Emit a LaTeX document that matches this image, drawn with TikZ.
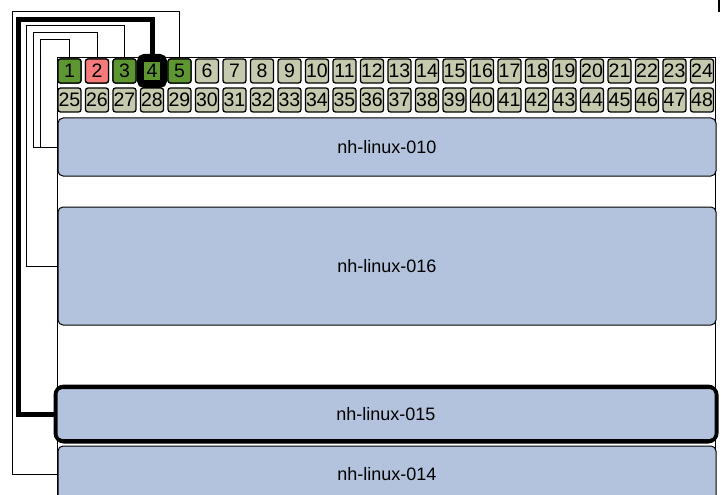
\documentclass[tikz,border=0pt]{standalone}
\usepackage{fontspec}
\setmainfont{Liberation Sans}
\begin{document}
\begin{tikzpicture}[x=1pt,y=-1pt,
  port/.style={draw=black,line width=1.3pt,rounded corners=2.5pt,minimum width=23pt,minimum height=24pt,inner sep=0pt,font=\fontsize{19.5}{20}\selectfont,fill=portbg},
  srv/.style={draw=black,line width=1pt,rounded corners=5pt,fill=srvbg,inner sep=0pt,minimum width=658pt,font=\fontsize{18}{18}\selectfont},
  cable/.style={draw=black,line width=1pt},
  thickcable/.style={draw=black,line width=5pt}]
\definecolor{portbg}{HTML}{C5C9AD}
\definecolor{portgreen}{HTML}{5E9732}
\definecolor{portred}{HTML}{F77B7B}
\definecolor{srvbg}{HTML}{B3C3DD}
\useasboundingbox (0,0) rectangle (721,495);
% panel outline
\draw[line width=1pt] (57,495) -- (57,58) -- (715,58) -- (715,495);
\draw[line width=2pt,draw=black] (719,0) -- (719,12);
% ports
\foreach \i in {1,...,24}{
  \pgfmathsetmacro{\xx}{69.5+(\i-1)*27.5}
  \node[port] (p\i) at (\xx,71) {\i};
}
\foreach \i in {25,...,48}{
  \pgfmathsetmacro{\xx}{69.5+(\i-25)*27.5}
  \node[port] (p\i) at (\xx,100) {\i};
}
\node[port,fill=portgreen] at (p1) {1};
\node[port,fill=portred] at (p2) {2};
\node[port,fill=portgreen] at (p3) {3};
\node[port,fill=portgreen] at (p5) {5};
\node[draw=black,line width=4pt,rounded corners=5pt,fill=black,minimum width=26pt,minimum height=30pt] (p4hl) at (p4) {};
\node[port,fill=portgreen,draw=black,rounded corners=0pt,minimum width=17pt,minimum height=19pt] at (p4) {4};
% servers
\node[srv,minimum height=58pt] (s010) at (387,147) {nh-linux-010};
\node[srv,minimum height=118pt] (s016) at (387,266) {nh-linux-016};
\node[draw=black,line width=5pt,rounded corners=8pt,minimum width=660pt,minimum height=54pt] (s015hl) at (386,414) {};
\node[srv,minimum height=51pt] (s015) at (386,414) {nh-linux-015};
\node[srv,minimum height=56pt] (s014) at (387,474) {nh-linux-014};
% cables
\draw[cable] (p1.north) |- (40,40) |- (s010.west);
\draw[cable] (p2.north) |- (33,33) |- (s010.west);
\draw[cable] (p3.north) |- (26,26) |- (s016.west);
\draw[thickcable] (p4hl.north) |- (18,20) |- (s015hl.west);
\draw[cable] (p5.north) |- (12,12) |- (s014.west);
\end{tikzpicture}
\end{document}
